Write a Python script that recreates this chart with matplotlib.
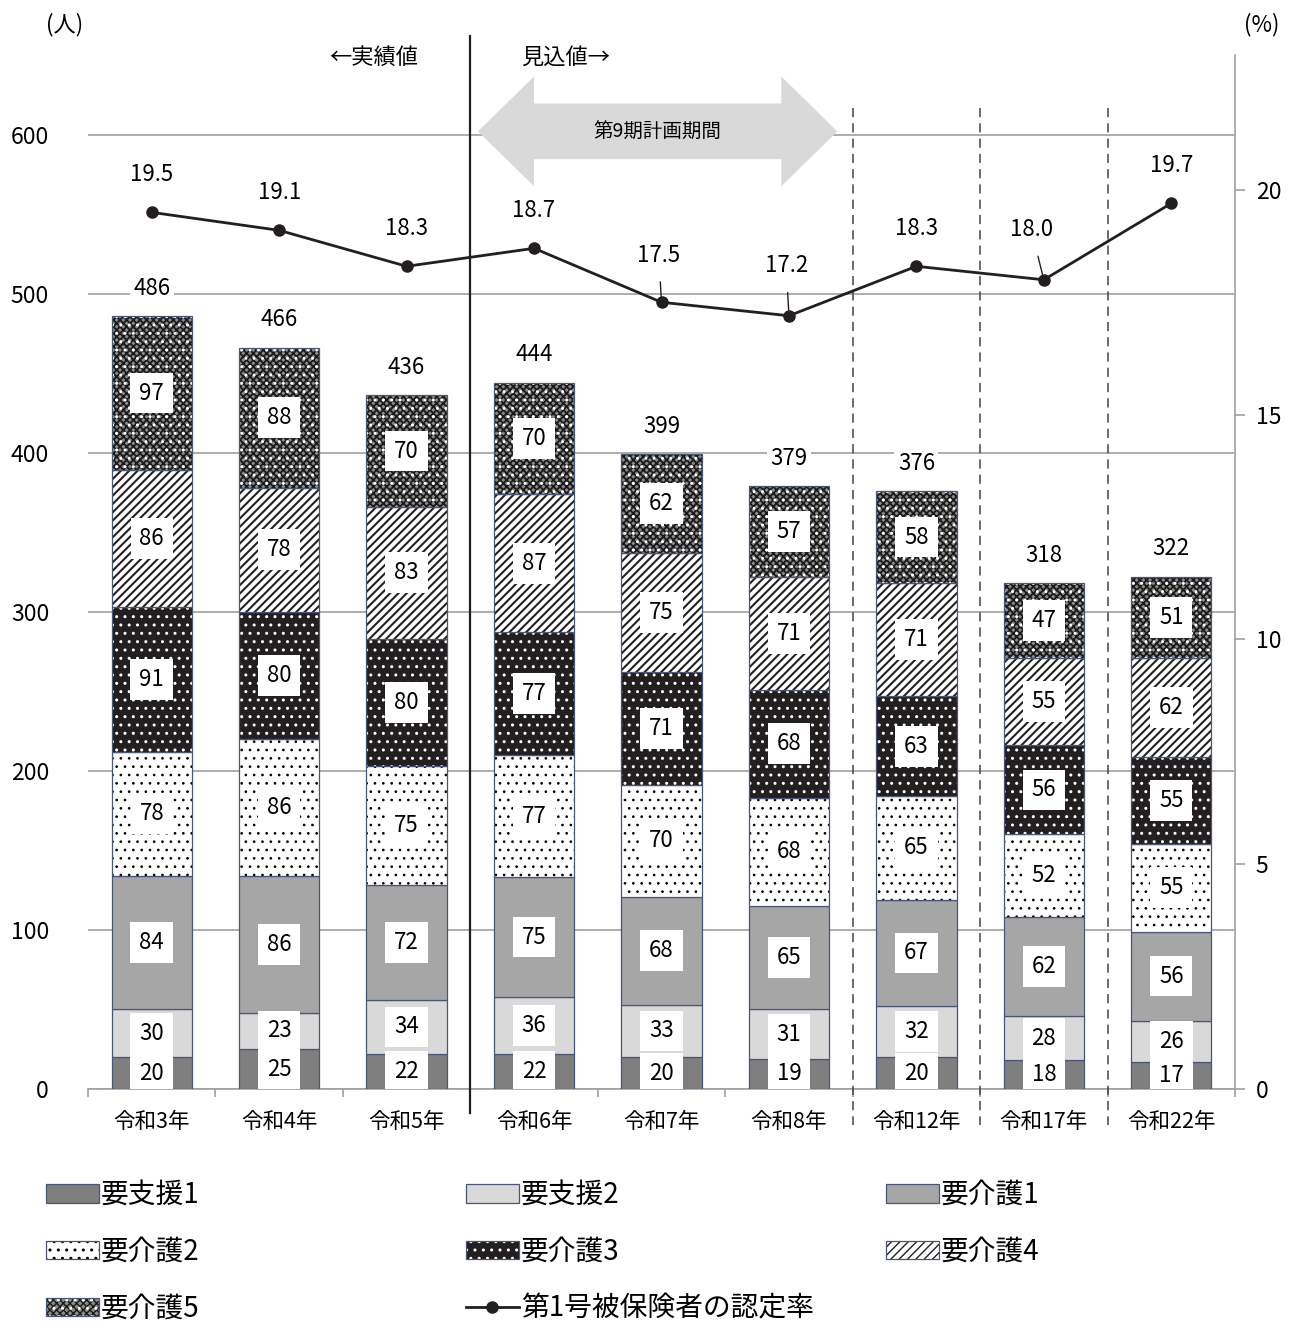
import matplotlib
matplotlib.use("Agg")
import matplotlib.pyplot as plt
import numpy as np
from matplotlib.patches import Patch, Polygon
from matplotlib.lines import Line2D
from matplotlib.legend_handler import HandlerTuple

plt.rcParams["font.family"] = ["Noto Sans CJK JP", "DejaVu Sans"]
plt.rcParams["hatch.linewidth"] = 1.0

categories = ["令和3年", "令和4年", "令和5年", "令和6年", "令和7年",
              "令和8年", "令和12年", "令和17年", "令和22年"]
shien1 = [20, 25, 22, 22, 20, 19, 20, 18, 17]
shien2 = [30, 23, 34, 36, 33, 31, 32, 28, 26]
kaigo1 = [84, 86, 72, 75, 68, 65, 67, 62, 56]
kaigo2 = [78, 86, 75, 77, 70, 68, 65, 52, 55]
kaigo3 = [91, 80, 80, 77, 71, 68, 63, 56, 55]
kaigo4 = [86, 78, 83, 87, 75, 71, 71, 55, 62]
kaigo5 = [97, 88, 70, 70, 62, 57, 58, 47, 51]
totals = [486, 466, 436, 444, 399, 379, 376, 318, 322]
rate = [19.5, 19.1, 18.3, 18.7, 17.5, 17.2, 18.3, 18.0, 19.7]

series_names = ["要支援1", "要支援2", "要介護1", "要介護2", "要介護3", "要介護4", "要介護5"]
series_vals = [shien1, shien2, kaigo1, kaigo2, kaigo3, kaigo4, kaigo5]

EDGE = "#4a5578"
# (face, hatch, hatch colour, hatch lw, overlay hatch, overlay colour)
styles = [
    ("#7f7f7f", None, None, 1.0, None, None),
    ("#d9d9d9", None, None, 1.0, None, None),
    ("#a6a6a6", None, None, 1.0, None, None),
    ("white", "..", "black", 0.7, None, None),
    ("#231f20", "..", "white", 1.0, None, None),
    ("white", "////", "#222222", 1.5, None, None),
    ("#8a8a8a", "xxxxx", "#1a1a1a", 1.3, "..", "white"),
]


def layered_patches(face, hatch, hcol, hlw, hatch2, hcol2):
    """Return Patch kwargs, bottom layer first."""
    layers = [dict(facecolor=face, edgecolor=hcol if hatch else face, hatch=hatch, linewidth=0, hlw=hlw)]
    if hatch2:
        layers.append(dict(facecolor="none", edgecolor=hcol2, hatch=hatch2, linewidth=0, hlw=1.0))
    layers.append(dict(facecolor="none", edgecolor=EDGE, hatch=None, linewidth=0.9, hlw=1.0))
    return layers


W, H = 1290, 1324
fig = plt.figure(figsize=(W / 100, H / 100), dpi=100)
fig.patch.set_facecolor("white")
ax = fig.add_axes([88 / W, (H - 1089) / H, (1235 - 88) / W, (1089 - 55) / H])
ax2 = ax.twinx()

x = np.arange(len(categories))
width = 0.63
bottom = np.zeros(len(categories))
legend_handles = []
for name, vals, st in zip(series_names, series_vals, styles):
    face, hatch, hcol, hlw, hatch2, hcol2 = st
    vals = np.array(vals)
    handle_parts = []
    for layer in layered_patches(face, hatch, hcol, hlw, hatch2, hcol2):
        hl = layer.pop("hlw")
        bars = ax.bar(x, vals, width, bottom=bottom, zorder=3, **layer)
        for b in bars:
            if hasattr(b, "set_hatch_linewidth"):
                b.set_hatch_linewidth(hl)
        p = Patch(**layer)
        if hasattr(p, "set_hatch_linewidth"):
            p.set_hatch_linewidth(hl)
        handle_parts.append(p)
    legend_handles.append(tuple(handle_parts))
    for xi, v, b0 in zip(x, vals, bottom):
        ax.text(xi, b0 + v / 2, f"{v}", ha="center", va="center", fontsize=16, zorder=6,
                bbox=dict(boxstyle="square,pad=0.4", facecolor="white", edgecolor="none"),
                clip_on=True)
    bottom = bottom + vals

for xi, t in zip(x, totals):
    ax.annotate(f"{t}", (xi, t), xytext=(0, 20), textcoords="offset points",
                ha="center", va="center", fontsize=16, zorder=6,
                bbox=dict(boxstyle="square,pad=0.15", facecolor="white", edgecolor="none"))

ax.set_xlim(-0.5, len(categories) - 0.5)
ax.set_ylim(0, 650)
ax.set_yticks(range(0, 700, 100))
ax.yaxis.grid(True, color="#a0a0a0", linewidth=1.2, zorder=0)
ax.set_axisbelow(True)
ax.set_xticks(x)
ax.set_xticklabels(categories, fontsize=15.5)
ax.set_xticks(np.arange(-0.5, len(categories), 1.0), minor=True)
ax.tick_params(axis="x", which="major", length=0, pad=16)
ax.tick_params(axis="x", which="minor", length=6, color="#a0a0a0", width=1.2)
ax.tick_params(axis="y", length=0, pad=28, labelsize=16.5)
for s in ["top", "left", "right"]:
    ax.spines[s].set_visible(False)
ax.spines["bottom"].set_color("#a0a0a0")
ax.spines["bottom"].set_linewidth(1.2)

# line on the secondary axis
ax2.plot(x, rate, color="#231f20", linewidth=2.0, marker="o", markersize=8, zorder=5)
ax2.set_ylim(0, 23)
ax2.set_yticks(range(0, 25, 5))
ax2.tick_params(axis="y", length=7, color="#a0a0a0", width=1.2, pad=8, labelsize=16.5)
for s in ["top", "left", "bottom"]:
    ax2.spines[s].set_visible(False)
ax2.spines["right"].set_color("#a0a0a0")
ax2.spines["right"].set_linewidth(1.2)

leader = {4: (-2, 34), 5: (-2, 36), 7: (-9, 36)}
for i, r in enumerate(rate):
    if i in leader:
        ax2.annotate(f"{r:.1f}", (x[i], r), xytext=leader[i], textcoords="offset points",
                     ha="center", va="center", fontsize=16,
                     arrowprops=dict(arrowstyle="-", color="#231f20", lw=1.0,
                                     shrinkA=9, shrinkB=4))
    else:
        ax2.annotate(f"{r:.1f}", (x[i], r), xytext=(0, 27), textcoords="offset points",
                     ha="center", va="center", fontsize=16)

# dividers
trans = ax.get_xaxis_transform()
ax.add_line(Line2D([2.5, 2.5], [1.018, -0.023], transform=trans, color="#231f20",
                   linewidth=1.6, clip_on=False, zorder=7))
for xd in [5.5, 6.5, 7.5]:
    ax.add_line(Line2D([xd, xd], [0.949, -0.035], transform=trans, color="#444444",
                       linewidth=1.1, linestyle=(0, (6, 4)), clip_on=False, zorder=7))

ax.text(2.09, 0.998, "←実績値", transform=trans, ha="right", va="center", fontsize=16)
ax.text(2.9, 0.998, "見込値→", transform=trans, ha="left", va="center", fontsize=16)

# double arrow for the 9th planning period
xl, xr, hl = 2.56, 5.38, 0.44
yc, bh, hh = 602, 17.5, 34.5
arrow = Polygon([(xl, yc), (xl + hl, yc + hh), (xl + hl, yc + bh), (xr - hl, yc + bh),
                 (xr - hl, yc + hh), (xr, yc), (xr - hl, yc - hh), (xr - hl, yc - bh),
                 (xl + hl, yc - bh), (xl + hl, yc - hh)], closed=True,
                facecolor="#d9d9d9", edgecolor="none", zorder=4, clip_on=False)
ax.add_patch(arrow)
ax.text((xl + xr) / 2, yc, "第9期計画期間", ha="center", va="center", fontsize=14, zorder=5)

fig.text(65 / W, 1 - 25 / H, "(人)", ha="center", va="center", fontsize=16)
fig.text(1262 / W, 1 - 25 / H, "(%)", ha="center", va="center", fontsize=16)

# legend: three columns placed separately
line_handle = Line2D([], [], color="#231f20", linewidth=2.0, marker="o", markersize=8)
labels = series_names + ["第1号被保険者の認定率"]
handles = legend_handles + [line_handle]
columns = [[0, 3, 6], [1, 4, 7], [2, 5]]
col_x = [46, 466, 886]
for cx, idx in zip(col_x, columns):
    fig.legend([handles[i] for i in idx], [labels[i] for i in idx],
               loc="upper left", bbox_to_anchor=(cx / W, 1 - 1180 / H),
               frameon=False, fontsize=20, handlelength=1.9, handleheight=0.65,
               handletextpad=0.08, labelspacing=0.97,
               borderaxespad=0, borderpad=0,
               handler_map={tuple: HandlerTuple(ndivide=1, pad=0)})

fig.savefig("out.png", dpi=100, facecolor="white")
